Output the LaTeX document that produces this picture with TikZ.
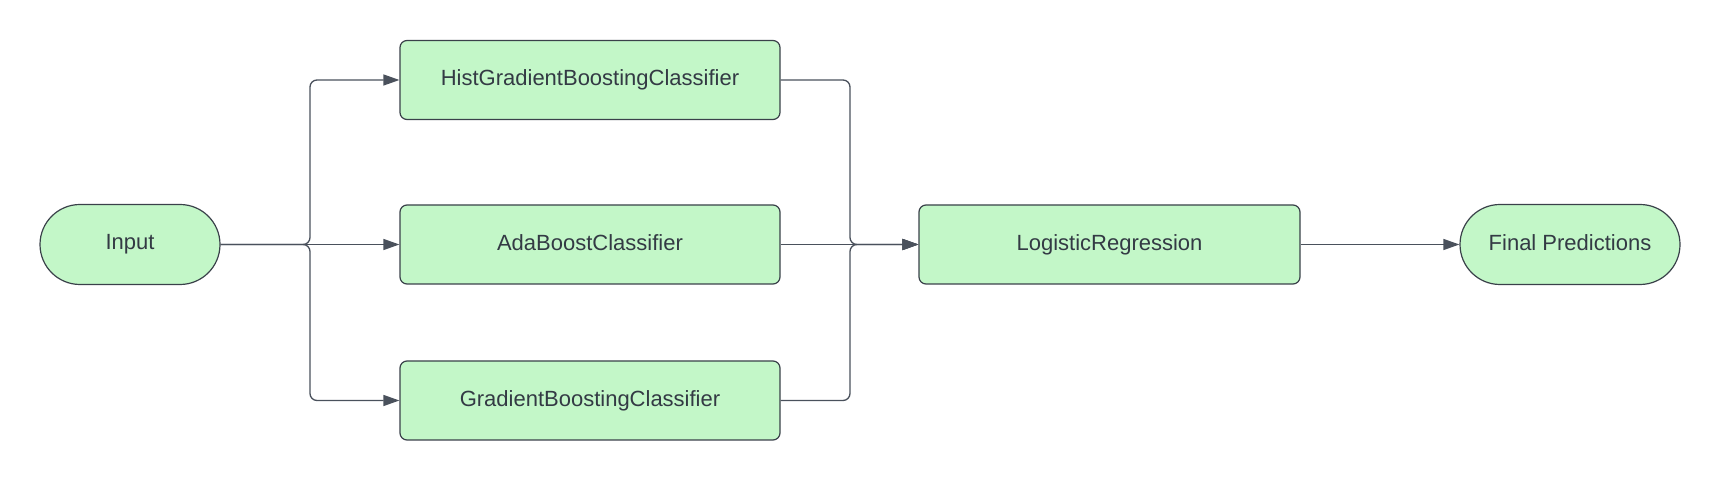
\documentclass[tikz,border=0pt]{standalone}
\usepackage{fontspec}
\setmainfont{Liberation Sans}
\usetikzlibrary{shapes.misc,arrows.meta}
\definecolor{boxfill}{HTML}{C3F7C8}
\definecolor{boxline}{HTML}{3A414A}
\definecolor{txt}{HTML}{333A44}
\definecolor{conn}{HTML}{4A515C}
\begin{document}
\begin{tikzpicture}[x=0.5pt,y=-0.5pt,
  every node/.style={font=\fontsize{11}{13}\selectfont, text=txt},
  proc/.style={draw=boxline, fill=boxfill, line width=0.6pt, rounded corners=3.5pt,
    minimum width=190pt, minimum height=39.5pt, inner sep=0pt},
  term/.style={draw=boxline, fill=boxfill, line width=0.6pt, rounded rectangle,
    minimum height=40pt, inner sep=0pt},
  conn/.style={draw=conn, line width=0.65pt, rounded corners=3.5pt,
    -{Triangle[length=8pt,width=5.5pt]}}]
\useasboundingbox (0,0) rectangle (1720,480);
\node[term, minimum width=90pt] (in) at (130,244.5) {\raisebox{2pt}{Input}};
\node[proc] (h) at (590,80) {\raisebox{2pt}{HistGradientBoostingClassifier}};
\node[proc] (a) at (590,244.5) {\raisebox{2pt}{AdaBoostClassifier}};
\node[proc] (g) at (590,400.5) {\raisebox{2pt}{GradientBoostingClassifier}};
\node[proc, minimum width=190.5pt] (lr) at (1109.5,244.5) {\raisebox{2pt}{LogisticRegression}};
\node[term, minimum width=110pt] (fp) at (1570,244.5) {\raisebox{2pt}{Final Predictions}};
\coordinate (jl) at (310,244.5);
\coordinate (jr) at (850,244.5);
\draw[conn] (in.east) -- (jl) |- (h.west);
\draw[conn] (in.east) -- (a.west);
\draw[conn] (in.east) -- (jl) |- (g.west);
\draw[conn] (h.east) -| (jr) -- (lr.west);
\draw[conn] (a.east) -- (lr.west);
\draw[conn] (g.east) -| (jr) -- (lr.west);
\draw[conn] (lr.east) -- (fp.west);
\end{tikzpicture}
\end{document}
